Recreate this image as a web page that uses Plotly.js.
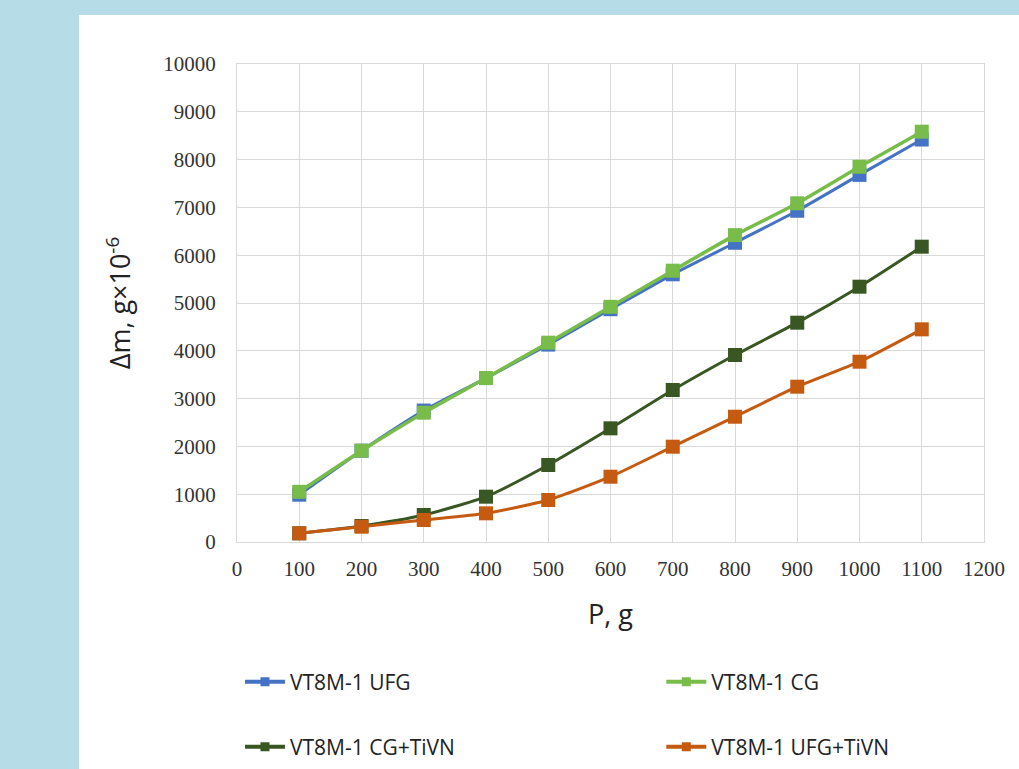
<!DOCTYPE html>
<html>
<head>
<meta charset="utf-8">
<script src="https://cdn.plot.ly/plotly-3.0.1.min.js"></script>
<style>
  html, body { margin:0; padding:0; width:1019px; height:769px; background:#b6dce7; overflow:hidden; }
  #chart { position:absolute; left:79px; top:15px; width:940px; height:800px; background:#ffffff; }
</style>
</head>
<body>
<div id="chart"></div>
<script>
const loads = [100, 200, 300, 400, 500, 600, 700, 800, 900, 1000, 1100];
const ufg = [990, 1910, 2750, 3430, 4130, 4870, 5600, 6260, 6930, 7680, 8420];
const cg = [1050, 1910, 2705, 3430, 4170, 4920, 5676, 6420, 7086, 7850, 8584];
const cgTiVN = [182, 335, 565, 948, 1611, 2378, 3180, 3912, 4588, 5341, 6178];
const ufgTiVN = [182, 320, 460, 600, 879, 1366, 1994, 2621, 3249, 3772, 4449];

const names = ['VT8M-1 UFG', 'VT8M-1 CG', 'VT8M-1 CG+TiVN', 'VT8M-1 UFG+TiVN'];
const colors = ['#4472c4', '#78bd4a', '#385723', '#c55a11'];
const legendIds = ['legend', 'legend2', 'legend3', 'legend4'];
const series = [ufg, cg, cgTiVN, ufgTiVN];

const data = [];
series.forEach(function (y, i) {
  data.push({
    x: loads, y: y, name: names[i], type: 'scatter', mode: 'lines+markers',
    line: {color: colors[i], width: i === 1 ? 3.5 : 3, shape: 'spline', smoothing: 0.6},
    marker: {symbol: 'square', size: 14, color: colors[i]},
    showlegend: false
  });
});
// legend-only entries (smaller marker in the key, as in the reference)
series.forEach(function (y, i) {
  data.push({
    x: [null], y: [null], name: names[i], type: 'scatter', mode: 'lines+markers',
    line: {color: colors[i], width: 4},
    marker: {symbol: 'square', size: 9, color: colors[i]},
    showlegend: true, legend: legendIds[i], hoverinfo: 'skip'
  });
});

const legFont = {family: 'Open Sans, Liberation Sans, sans-serif', size: 21, color: '#222'};
function leg(x, y) {
  return {orientation: 'v', x: x, xanchor: 'left', y: y, yanchor: 'middle',
          font: legFont, bgcolor: 'rgba(0,0,0,0)', itemwidth: 40, borderwidth: 0};
}

const tickFont = {family: 'Liberation Serif, serif', size: 21, color: '#333'};
const titleFont = {family: 'Open Sans, Liberation Sans, sans-serif', size: 27, color: '#222'};

const layout = {
  width: 940, height: 800,
  paper_bgcolor: '#ffffff', plot_bgcolor: '#ffffff',
  margin: {l: 158, r: 35, t: 49, b: 273},
  showlegend: true,
  xaxis: {
    range: [0, 1200], dtick: 100, tick0: 0, tickformat: 'd',
    showgrid: true, gridcolor: '#d9d9d9', gridwidth: 1,
    zeroline: false, showline: true, linecolor: '#d9d9d9', mirror: true,
    ticks: '', ticklen: 0, ticklabelstandoff: 8,
    tickfont: tickFont,
    title: {text: 'P, g', font: titleFont, standoff: 24},
    automargin: false
  },
  yaxis: {
    range: [0, 10000], dtick: 1000, tick0: 0, tickformat: 'd',
    showgrid: true, gridcolor: '#d9d9d9', gridwidth: 1,
    zeroline: false, showline: true, linecolor: '#d9d9d9', mirror: true,
    ticks: '', ticklen: 0, ticklabelstandoff: 16,
    tickfont: tickFont,
    title: {text: 'Δm, g×10<sup>-6</sup>', font: titleFont, standoff: 24},
    automargin: false
  },
  legend: leg(0.004, -0.293),
  legend2: leg(0.568, -0.293),
  legend3: leg(0.004, -0.429),
  legend4: leg(0.568, -0.429)
};

Plotly.newPlot('chart', data, layout, {displayModeBar: false, staticPlot: true});
</script>
</body>
</html>
